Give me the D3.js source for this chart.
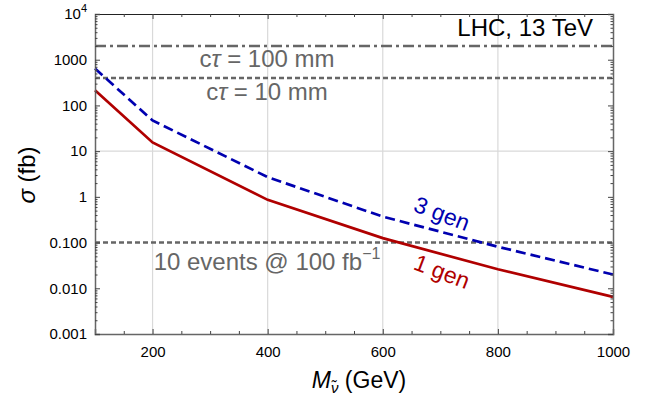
<!DOCTYPE html>
<html>
<head>
<meta charset="utf-8">
<script src="https://cdn.jsdelivr.net/npm/d3@7"></script>
<style>
  body { margin: 0; background: #fff; }
  text { font-family: "Liberation Sans", Arial, sans-serif; }
</style>
</head>
<body>
<svg id="chart" width="650" height="400"></svg>
<script>
// masses (GeV)
var masses = [100, 200, 400, 600, 800, 1000];
// cross sections (fb)
var oneGen = [215, 15.5, 0.86, 0.125, 0.026, 0.0065];
var threeGen = [640, 47, 2.7, 0.37, 0.081, 0.020];
// reference lines
var refValues = [2000, 400, 0.1];
var refLabels = [" = 100 mm", " = 10 mm", "10 events @ 100 fb"];
var xTicks = [200, 400, 600, 800, 1000];
var yTicks = [10000, 1000, 100, 10, 1, 0.1, 0.01, 0.001];
var yTickLabels = ["10", "1000", "100", "10", "1", "0.100", "0.010", "0.001"];

var margin = {left: 95, right: 37, top: 14, bottom: 66};
var W = 650, H = 400;
var svg = d3.select("#chart");

var x = d3.scaleLinear().domain([100, 1000]).range([margin.left, W - margin.right]);
var y = d3.scaleLog().domain([0.001, 10000]).range([H - margin.bottom, margin.top]);

var frameCol = "#666";

// grid lines
svg.append("g").selectAll("line").data([200, 400, 600, 800]).enter().append("line")
  .attr("x1", d => x(d)).attr("x2", d => x(d))
  .attr("y1", y(10000)).attr("y2", y(0.001))
  .attr("stroke", "#d9d9d9").attr("stroke-width", 1.2);
svg.append("line")
  .attr("x1", x(100)).attr("x2", x(1000))
  .attr("y1", y(10)).attr("y2", y(10))
  .attr("stroke", "#d9d9d9").attr("stroke-width", 1.2);

// reference lines
var refDash = ["11,4,3,4", "5,3", "5,3"];
svg.append("g").selectAll("line").data(refValues).enter().append("line")
  .attr("x1", x(100)).attr("x2", x(1000))
  .attr("y1", d => y(d)).attr("y2", d => y(d))
  .attr("stroke", "#666").attr("stroke-width", 2.5)
  .attr("stroke-dasharray", (d, i) => refDash[i]);

// curves
var line = d3.line().x(d => x(d[0])).y(d => y(d[1]));
svg.append("path").datum(d3.zip(masses, oneGen))
  .attr("d", line).attr("fill", "none")
  .attr("stroke", "#b00000").attr("stroke-width", 2.7);
svg.append("path").datum(d3.zip(masses, threeGen))
  .attr("d", line).attr("fill", "none")
  .attr("stroke", "#0000b0").attr("stroke-width", 2.7)
  .attr("stroke-dasharray", "10,5");

// frame axes with inward ticks
var xMinor = d3.range(150, 1000, 50).filter(d => d % 200 !== 0);
var yMinor = [];
for (var e = -3; e < 4; e++) for (var k = 2; k < 10; k++) yMinor.push(k * Math.pow(10, e));

function minor(g, axis) {
  g.append("g").attr("class", "minor").call(axis);
}

var axBottom = svg.append("g").attr("transform", "translate(0," + y(0.001) + ")")
  .call(d3.axisBottom(x).tickValues(xTicks).tickSize(-5).tickPadding(12).tickFormat(d3.format("d")));
minor(axBottom, d3.axisBottom(x).tickValues(xMinor).tickSize(-3).tickFormat(""));
var axTop = svg.append("g").attr("transform", "translate(0," + y(10000) + ")")
  .call(d3.axisTop(x).tickValues(xTicks).tickSize(-5).tickFormat(""));
minor(axTop, d3.axisTop(x).tickValues(xMinor).tickSize(-3).tickFormat(""));
var axLeft = svg.append("g").attr("transform", "translate(" + x(100) + ",0)")
  .call(d3.axisLeft(y).tickValues(yTicks).tickSize(-5).tickPadding(8).tickFormat((d, i) => yTickLabels[i]));
minor(axLeft, d3.axisLeft(y).tickValues(yMinor).tickSize(-2.5).tickFormat(""));
var axRight = svg.append("g").attr("transform", "translate(" + x(1000) + ",0)")
  .call(d3.axisRight(y).tickValues(yTicks).tickSize(-5).tickFormat(""));
minor(axRight, d3.axisRight(y).tickValues(yMinor).tickSize(-2.5).tickFormat(""));

svg.selectAll(".minor .domain").remove();
svg.selectAll(".domain").attr("stroke", frameCol).attr("stroke-width", 1.5);
axTop.select(".domain").attr("stroke", "#222").attr("stroke-width", 1);
svg.selectAll(".tick line").attr("stroke", "#444");
svg.selectAll(".tick text").attr("font-size", 15).attr("fill", "#000")
  .attr("font-family", "'Liberation Sans', Arial, sans-serif");

// superscript on 10^4
axLeft.selectAll(".tick text").filter(d => d === 10000)
  .append("tspan").attr("dy", -7).attr("font-size", 11).text("4");

// annotations
var ann = svg.append("g").attr("fill", "#666").attr("font-size", 24).attr("text-anchor", "middle");
[0, 1].forEach(function (i) {
  var t = ann.append("text").attr("x", 267).attr("y", y(refValues[i]) + 21 + i);
  t.append("tspan").text("c");
  t.append("tspan").attr("font-style", "italic").text("\u03C4");
  t.append("tspan").text(refLabels[i]);
});
var ev = ann.append("text").attr("x", 267).attr("y", y(refValues[2]) + 27).text(refLabels[2]);
ev.append("tspan").attr("dy", -11).attr("font-size", 16).text("\u22121");

svg.append("text").attr("x", 593).attr("y", 36).attr("text-anchor", "end")
  .attr("font-size", 24).attr("fill", "#000").text("LHC, 13 TeV");

svg.append("text").attr("transform", "translate(439,221) rotate(21)")
  .attr("text-anchor", "middle").attr("font-size", 23).attr("fill", "#0000b0").text("3 gen");
svg.append("text").attr("transform", "translate(439,279) rotate(21)")
  .attr("text-anchor", "middle").attr("font-size", 23).attr("fill", "#b00000").text("1 gen");

// axis titles
var yl = svg.append("text").attr("transform", "translate(35,175) rotate(-90)")
  .attr("text-anchor", "middle").attr("font-size", 24).attr("fill", "#000");
yl.append("tspan").attr("font-style", "italic").text("\u03C3");
yl.append("tspan").text(" (fb)");

var xl = svg.append("text").attr("x", 359).attr("y", 388)
  .attr("text-anchor", "middle").attr("font-size", 23).attr("fill", "#000");
xl.append("tspan").attr("font-style", "italic").text("M");
xl.append("tspan").attr("font-style", "italic").attr("font-size", 15).attr("dy", 5).text("\u03BD\u0303");
xl.append("tspan").attr("dy", -5).text(" (GeV)");
</script>
</body>
</html>
